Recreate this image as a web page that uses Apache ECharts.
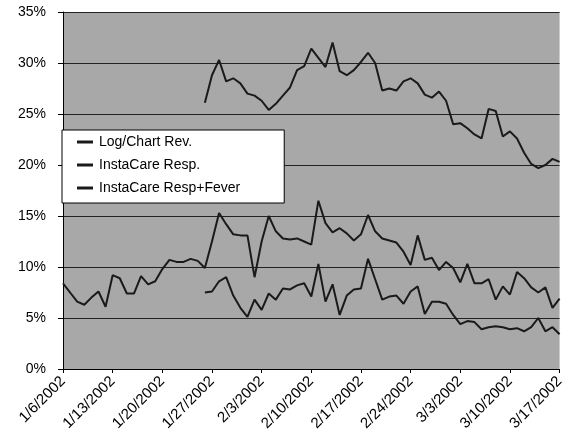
<!DOCTYPE html>
<html>
<head>
<meta charset="utf-8">
<script src="https://cdn.jsdelivr.net/npm/echarts@6/dist/echarts.min.js"></script>
<style>
  html, body { margin: 0; padding: 0; background: #fff; }
  #chart { width: 567px; height: 443px; }
</style>
</head>
<body>
<div id="chart"></div>
<script>
// daily points, 1/6/2002 .. 3/17/2002
const startDay = new Date(2002, 0, 6)
const dayCount = 71
const days = []
for (let i = 0; i < dayCount; i++) {
  const d = new Date(startDay.getTime() + i * 86400000)
  days.push((d.getMonth() + 1) + '/' + d.getDate() + '/' + d.getFullYear())
}

const seriesNames = ['Log/Chart Rev.', 'InstaCare Resp.', 'InstaCare Resp+Fever']
const yTicks = [0, 5, 10, 15, 20, 25, 30, 35]

// percent values, null = no data yet
const logChartRev = [
  null, null, null, null, null, null, null, null, null, null,
  null, null, null, null, null, null, null, null, null, null,
  26.1, 28.8, 30.3, 28.2, 28.5, 28.0, 27.0, 26.8, 26.3, 25.4,
  26.0, 26.8, 27.6, 29.3, 29.7, 31.4, 30.5, 29.6, 32.0, 29.2,
  28.8, 29.3, 30.1, 31.0, 30.0, 27.3, 27.5, 27.3, 28.2, 28.5,
  28.0, 26.9, 26.6, 27.2, 26.3, 24.0, 24.1, 23.6, 23.0, 22.6,
  25.5, 25.3, 22.8, 23.3, 22.6, 21.2, 20.1, 19.7, 20.0, 20.6,
  20.3
]
const instaResp = [
  8.4, 7.5, 6.6, 6.3, 7.0, 7.6, 6.1, 9.2, 8.9, 7.4,
  7.4, 9.1, 8.3, 8.6, 9.8, 10.7, 10.5, 10.5, 10.8, 10.6,
  9.9, 12.5, 15.3, 14.2, 13.2, 13.1, 13.1, 9.0, 12.5, 15.0,
  13.5, 12.8, 12.7, 12.8, 12.5, 12.2, 16.5, 14.3, 13.4, 13.8,
  13.3, 12.6, 13.2, 15.1, 13.5, 12.8, 12.6, 12.4, 11.5, 10.2,
  13.1, 10.7, 10.9, 9.7, 10.5, 9.9, 8.5, 10.3, 8.4, 8.4,
  8.8, 6.8, 8.1, 7.3, 9.5, 8.9, 8.0, 7.5, 8.0, 6.0,
  6.9
]
const instaRespFever = [
  null, null, null, null, null, null, null, null, null, null,
  null, null, null, null, null, null, null, null, null, null,
  7.5, 7.6, 8.6, 9.0, 7.2, 6.0, 5.1, 6.8, 5.8, 7.4,
  6.8, 7.9, 7.8, 8.2, 8.4, 7.1, 10.3, 6.6, 8.3, 5.3,
  7.2, 7.8, 7.9, 10.8, 8.8, 6.8, 7.1, 7.2, 6.4, 7.6,
  8.1, 5.4, 6.6, 6.6, 6.4, 5.3, 4.4, 4.7, 4.6, 3.9,
  4.1, 4.2, 4.1, 3.9, 4.0, 3.7, 4.1, 5.0, 3.7, 4.1,
  3.4
]

const font = 'Arial, "Liberation Sans", sans-serif'
const chart = echarts.init(document.getElementById('chart'))

function lineSeries(name, data) {
  return {
    name: name,
    type: 'line',
    data: data,
    symbol: 'none',
    connectNulls: false,
    lineStyle: { color: '#1a1a1a', width: 2 },
    itemStyle: { color: '#1a1a1a' }
  }
}

chart.setOption({
  animation: false,
  backgroundColor: '#fff',
  grid: {
    left: 63, right: 0, top: 12, bottom: 74,
    show: true, backgroundColor: '#a8a8a8', borderWidth: 0
  },
  legend: {
    data: seriesNames,
    orient: 'vertical',
    left: 62, top: 130,
    backgroundColor: '#fff',
    borderColor: '#000',
    borderWidth: 1,
    borderRadius: 0,
    padding: [5, 44, 8, 15],
    itemGap: 9,
    itemWidth: 16,
    itemHeight: 3,
    icon: 'rect',
    textStyle: { fontFamily: font, fontSize: 14, color: '#000', padding: [0, 0, 0, 1] }
  },
  xAxis: {
    type: 'category',
    data: days,
    boundaryGap: false,
    axisLine: { lineStyle: { color: '#000', width: 1 } },
    axisTick: { interval: 6, length: 4, lineStyle: { color: '#000' } },
    axisLabel: {
      interval: 6, rotate: 45, margin: 10,
      fontFamily: font, fontSize: 15, color: '#000'
    },
    splitLine: { show: false }
  },
  yAxis: {
    type: 'value',
    min: yTicks[0], max: yTicks[yTicks.length - 1], interval: 5,
    axisLine: { show: true, lineStyle: { color: '#000', width: 1 } },
    axisTick: { show: true, length: 5, lineStyle: { color: '#000' } },
    axisLabel: {
      formatter: '{value}%', margin: 17,
      fontFamily: font, fontSize: 14, color: '#000'
    },
    splitLine: { lineStyle: { color: '#222', width: 1 } }
  },
  series: [
    lineSeries(seriesNames[0], logChartRev),
    lineSeries(seriesNames[1], instaResp),
    lineSeries(seriesNames[2], instaRespFever)
  ]
})
</script>
</body>
</html>
